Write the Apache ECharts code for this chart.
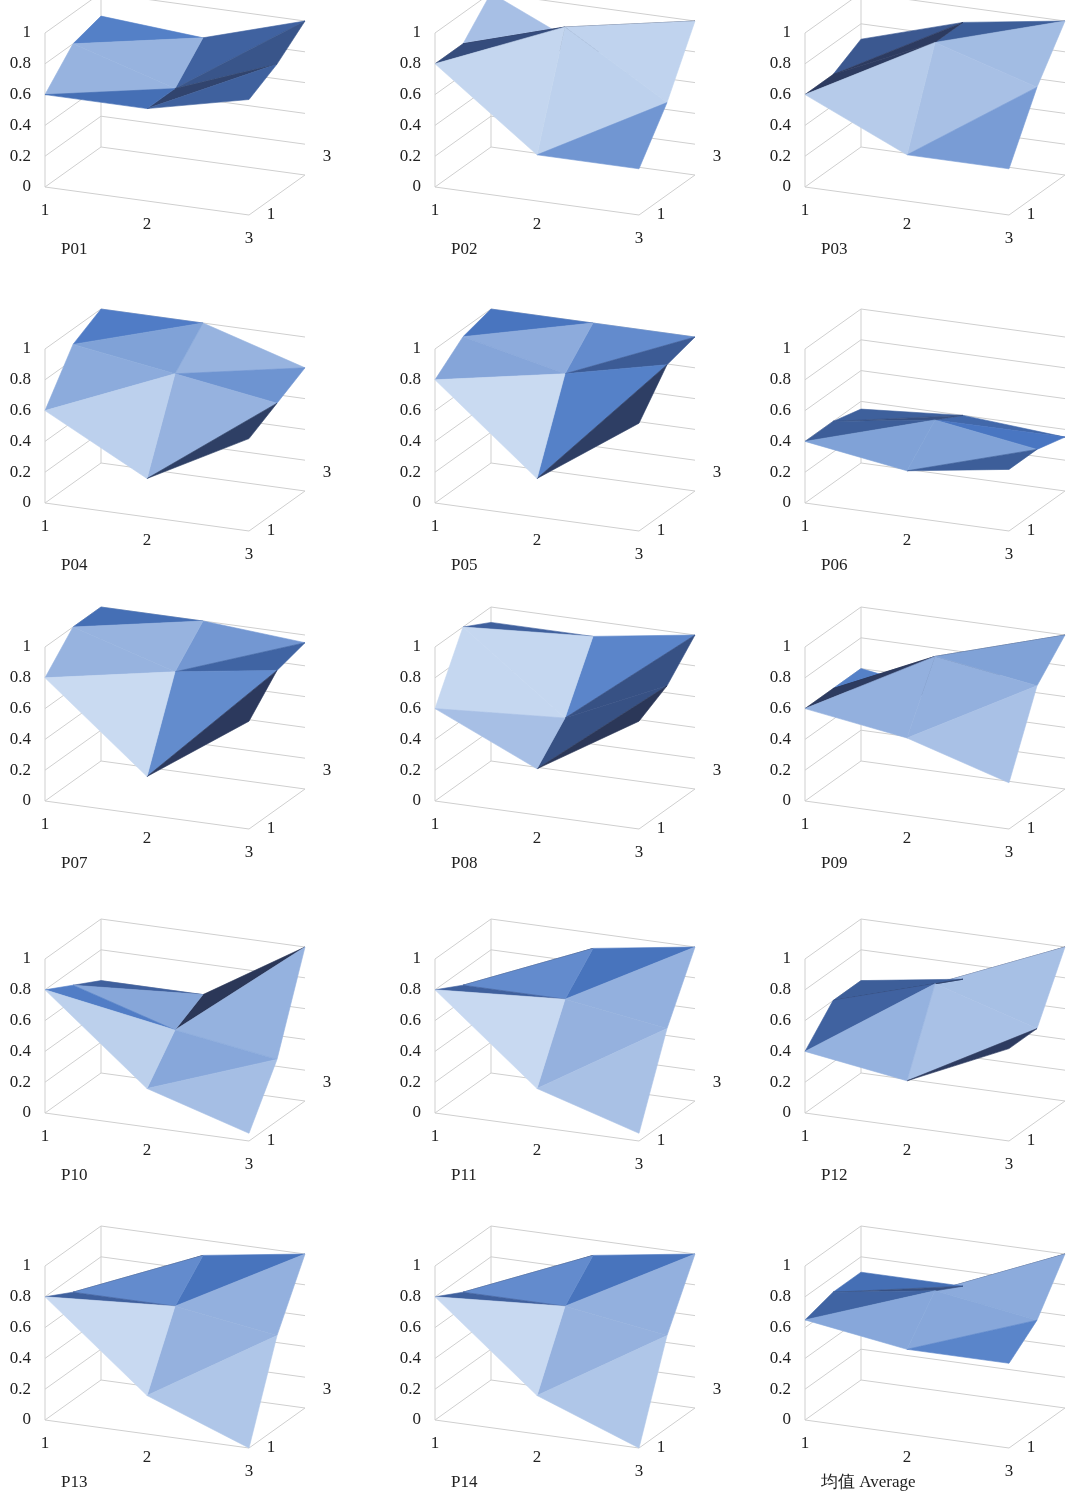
<!DOCTYPE html>
<html>
<head>
<meta charset="utf-8">
<title>surface panels</title>
<script src="https://cdn.jsdelivr.net/npm/echarts@6/dist/echarts.min.js"></script>
<style>body{margin:0;background:#fff}#chart{width:1080px;height:1494px}</style>
</head>
<body>
<div id="chart"></div>
<script>
// each panel: rows = depth 1..3, columns = x 1..3
var p01 = [[0.6,0.6,0.75],[0.8,0.6,0.85],[0.85,0.8,1]];
var p02 = [[0.8,0.3,0.3],[0.8,1,0.6],[1,0.7,1]];
var p03 = [[0.6,0.3,0.3],[0.6,0.9,0.7],[0.7,0.9,1]];
var p04 = [[0.6,0.25,0.6],[0.9,0.8,0.7],[1,1,0.8]];
var p05 = [[0.8,0.25,0.7],[0.95,0.8,0.95],[1,1,1]];
var p06 = [[0.4,0.3,0.4],[0.4,0.5,0.4],[0.35,0.4,0.35]];
var p07 = [[0.8,0.25,0.7],[1,0.8,0.9],[1,1,0.95]];
var p08 = [[0.6,0.3,0.7],[1,0.5,0.8],[0.9,0.9,1]];
var p09 = [[0.6,0.5,0.3],[0.6,0.9,0.8],[0.6,0.5,1]];
var p10 = [[0.8,0.25,0.05],[0.7,0.5,0.4],[0.6,0.6,1]];
var p11 = [[0.8,0.25,0.05],[0.7,0.7,0.6],[0.6,0.9,1]];
var p12 = [[0.4,0.3,0.6],[0.6,0.8,0.6],[0.6,0.7,1]];
var p13 = [[0.8,0.25,0.0],[0.7,0.7,0.6],[0.6,0.9,1]];
var p14 = [[0.8,0.25,0.0],[0.7,0.7,0.6],[0.6,0.9,1]];
var pAvg = [[0.65,0.55,0.55],[0.7,0.8,0.7],[0.7,0.7,1]];
var panelNames = ['P01','P02','P03','P04','P05','P06','P07','P08','P09','P10','P11','P12','P13','P14','均值 Average'];
var panelData = [p01,p02,p03,p04,p05,p06,p07,p08,p09,p10,p11,p12,p13,p14,pAvg];
var valueTicks = [0,0.2,0.4,0.6,0.8,1];
var xTicks = ['1','2','3'];
var depthTicks = ['1','3'];

var colX = [45,435,805];
var rowY = [187,503,801,1113,1420];
var UX = [102,14], UD = [28,-20], UV = 154;

function proj(ox,oy,i,j,v){
  return [ox + i*UX[0] + j*UD[0], oy + i*UX[1] + j*UD[1] - v*UV];
}
function mix(a,b,t){
  var r='#';
  for(var k=0;k<3;k++){
    var c=Math.round(a[k]+(b[k]-a[k])*t);
    r+=('0'+c.toString(16)).slice(-2);
  }
  return r;
}
var DARK=[0x25,0x2b,0x45], BLUE=[0x4a,0x78,0xc4], LIGHT=[0xcc,0xdc,0xf2];
function shade(p){
  // p: 3 world points [x, depth, v]
  var a=[p[1][0]-p[0][0],p[1][1]-p[0][1],(p[1][2]-p[0][2])*1.6];
  var b=[p[2][0]-p[0][0],p[2][1]-p[0][1],(p[2][2]-p[0][2])*1.6];
  var n=[a[1]*b[2]-a[2]*b[1],a[2]*b[0]-a[0]*b[2],a[0]*b[1]-a[1]*b[0]];
  if(n[2]<0){n=[-n[0],-n[1],-n[2]];}
  var len=Math.sqrt(n[0]*n[0]+n[1]*n[1]+n[2]*n[2]);
  var L=[0.6,-0.5,0.5], ll=Math.sqrt(0.36+0.25+0.25);
  var d=(n[0]*L[0]+n[1]*L[1]+n[2]*L[2])/len/ll;
  if(d<0.6) return mix(DARK,BLUE,Math.max(0,(d-0.1)/0.5));
  return mix(BLUE,LIGHT,Math.min(1,(d-0.6)/0.4));
}

function renderPanel(params, api){
  var idx=params.dataIndex;
  var ox=colX[idx%3], oy=rowY[Math.floor(idx/3)];
  var vals=panelData[idx];
  var ch=[];
  var gl={stroke:'#cfcfcf',lineWidth:1};
  function C(pt){return api.coord(pt);}
  function line(a,b,st){ch.push({type:'line',shape:{x1:C(a)[0],y1:C(a)[1],x2:C(b)[0],y2:C(b)[1]},style:st||gl,silent:true});}
  function text(pt,s,align){var c=C(pt);ch.push({type:'text',x:c[0],y:c[1],style:{text:s,fill:'#222',font:'17px "Liberation Serif", serif',align:align||'center',verticalAlign:'middle'}});}
  // walls gridlines
  valueTicks.forEach(function(v){
    line(proj(ox,oy,0,0,v),proj(ox,oy,0,2,v));
    line(proj(ox,oy,0,2,v),proj(ox,oy,2,2,v));
    var lp=proj(ox,oy,0,0,v);
    text([lp[0]-14,lp[1]],String(v),'right');
  });
  line(proj(ox,oy,0,0,0),proj(ox,oy,0,0,1));
  line(proj(ox,oy,0,0,0),proj(ox,oy,2,0,0));
  line(proj(ox,oy,2,0,0),proj(ox,oy,2,2,0));
  line(proj(ox,oy,0,2,0),proj(ox,oy,0,2,1));
  xTicks.forEach(function(t,i){var p=proj(ox,oy,i,0,0);text([p[0],p[1]+24],t);});
  depthTicks.forEach(function(t,k){var p=proj(ox,oy,2,k*2,0);text([p[0]+22,p[1]-k*18],t);});
  // surface, back to front
  for(var j=1;j>=0;j--){
    for(var i=1;i>=0;i--){
      var w=[[i,j,vals[j][i]],[i+1,j,vals[j][i+1]],[i+1,j+1,vals[j+1][i+1]],[i,j+1,vals[j+1][i]]];
      var tris=[[w[0],w[2],w[3]],[w[0],w[1],w[2]]];
      tris.forEach(function(t){
        var pts=t.map(function(q){return C(proj(ox,oy,q[0],q[1],q[2]));});
        var col=shade(t);
        ch.push({type:'polygon',shape:{points:pts},style:{fill:col,stroke:col,lineWidth:0.6}});
      });
    }
  }
  var lp=proj(ox,oy,0,0,0);
  text([lp[0]+16,lp[1]+63],panelNames[idx],'left');
  return {type:'group',children:ch};
}

var chart=echarts.init(document.getElementById('chart'));
chart.setOption({
  animation:false,
  grid:{left:0,right:0,top:0,bottom:0},
  xAxis:{type:'value',min:0,max:1080,show:false},
  yAxis:{type:'value',min:0,max:1494,inverse:true,show:false},
  series:[{
    type:'custom',
    renderItem:renderPanel,
    data:panelNames.map(function(n,i){return [i];}),
    encode:{x:0,y:0}
  }]
});
</script>
</body>
</html>
